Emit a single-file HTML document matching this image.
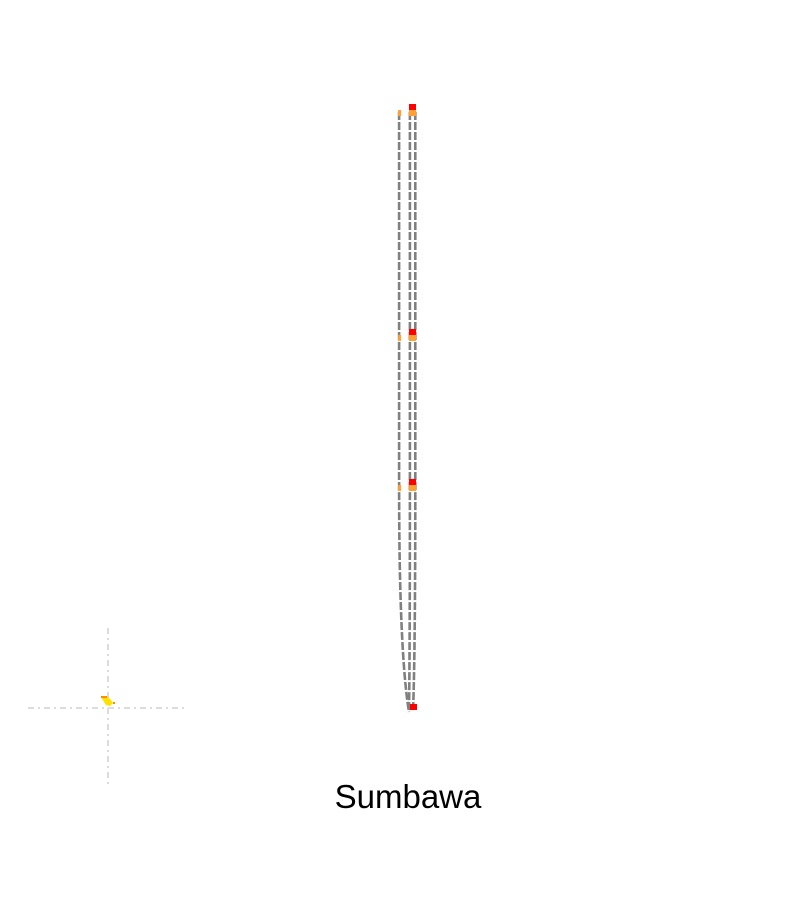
<!DOCTYPE html>
<html><head><meta charset="utf-8"><style>
body{margin:0;background:#fff;width:800px;height:900px;overflow:hidden;font-family:"Liberation Sans",sans-serif}
</style></head><body>
<svg id="chart" width="800" height="900" xmlns="http://www.w3.org/2000/svg">
<g stroke="#dcdcdc" stroke-width="2" stroke-dasharray="6,4,2,4">
<line x1="28" y1="708" x2="188" y2="708"/>
<line x1="108" y1="628" x2="108" y2="788"/>
</g>
<g>
<path d="M101 697 L107 696 L110 699 L113 703 L110 706 L106 705 Z" fill="#ffe000"/>
<rect x="101" y="696" width="6" height="2" fill="#ff8c00"/>
<rect x="113" y="702" width="2" height="2" fill="#ff8c00"/>
</g>
<g id="links"></g>
<g id="nodes"></g>
<text x="408" y="808" text-anchor="middle" font-size="33" fill="#000">Sumbawa</text>
</svg>
<script>
const levels = ["L1","L2","L3","L4"];
const levelValues = [100, 62.5, 37.5, 0];
const tracks = ["west","center","east"];
const trackValues = [-1.1, 0.1, 0.7];
const orangeLevels = [0,1,2];
const redLevels = [0,1,2,3];

const yScale = v => 710 - v * 6;
const xScale = v => 409 + v * 9;
const ns = "http://www.w3.org/2000/svg";
const links = document.getElementById('links');
const nodes = document.getElementById('nodes');

tracks.forEach((t, i) => {
  const x0 = xScale(trackValues[i]);
  const xEnd = xScale(0) + (i === 2 ? 4 : 0);
  const p = document.createElementNS(ns, 'path');
  const yTop = yScale(levelValues[0]) + 2;
  const yBot = yScale(levelValues[3]) + 2;
  p.setAttribute('d', `M${x0} ${yTop} L${x0} ${yScale(levelValues[2])} Q${x0} ${yBot - 60} ${xEnd} ${yBot}`);
  p.setAttribute('fill', 'none');
  p.setAttribute('stroke', '#808080');
  p.setAttribute('stroke-width', '2.6');
  p.setAttribute('stroke-dasharray', '8,2');
  
  
  links.appendChild(p);
});

orangeLevels.forEach(li => {
  const y = yScale(levelValues[li]);
  const r = document.createElementNS(ns, 'rect');
  r.setAttribute('x', xScale(trackValues[0]) - 1);
  r.setAttribute('y', y);
  r.setAttribute('width', 3);
  r.setAttribute('height', 6);
  r.setAttribute('fill', '#ffa030');
  
  
  nodes.appendChild(r);
  const o = document.createElementNS(ns, 'rect');
  o.setAttribute('x', xScale(0));
  o.setAttribute('y', y);
  o.setAttribute('width', 7);
  o.setAttribute('height', 6);
  o.setAttribute('fill', '#ffa030');
  
  
  nodes.appendChild(o);
});
redLevels.forEach(li => {
  const y = yScale(levelValues[li]);
  const r = document.createElementNS(ns, 'rect');
  r.setAttribute('x', xScale(0) + (li === 3 ? 1 : 0));
  r.setAttribute('y', y - 6);
  r.setAttribute('width', 7);
  r.setAttribute('height', 6);
  r.setAttribute('fill', '#ff0000');
  
  
  nodes.appendChild(r);
});
</script>
</body></html>
